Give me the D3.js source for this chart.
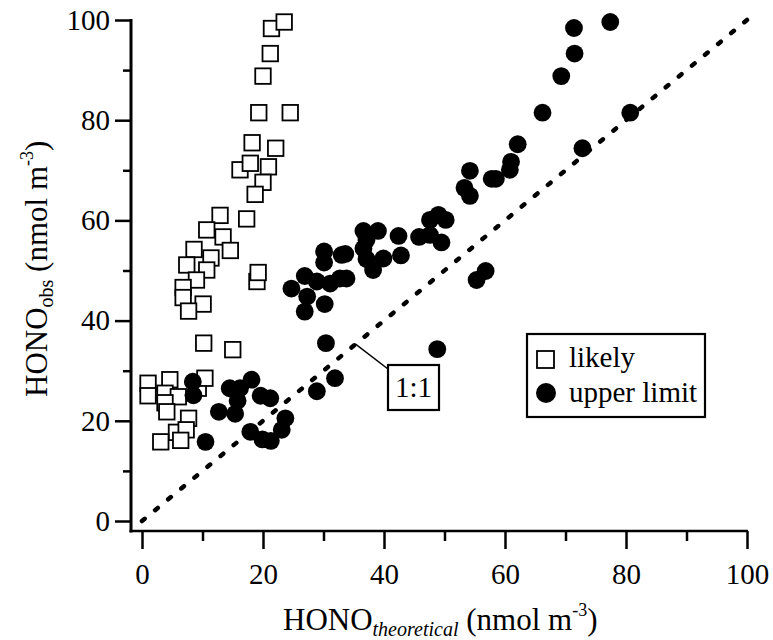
<!DOCTYPE html>
<html>
<head>
<meta charset="utf-8">
<script src="https://cdn.jsdelivr.net/npm/d3@7"></script>
<style>
  html, body { margin: 0; padding: 0; background: #fff; }
</style>
</head>
<body>
<svg id="chart" width="773" height="640"></svg>
<script>
// "likely" (open squares): HONO_theoretical, HONO_obs
const likelyX = [21.4, 23.5, 21.2, 20.0, 19.3, 24.5, 18.2, 22.1, 16.2, 17.9, 20.9, 20.0, 18.7,
  17.3, 12.9, 10.7, 13.4, 14.6, 8.6, 11.4, 7.4, 10.7, 9.0, 19.0, 19.2, 6.8, 6.8, 10.1, 7.7,
  10.2, 15.0, 1.0, 1.0, 4.6, 9.3, 10.4, 3.8, 6.0, 3.8, 4.1, 7.7, 5.7, 7.3, 6.4, 3.1];
const likelyY = [98.3, 99.6, 93.3, 88.8, 81.5, 81.5, 75.5, 74.4, 70.1, 71.4, 70.7, 67.6, 65.2,
  60.3, 61.0, 58.1, 56.7, 54.0, 54.2, 52.5, 51.1, 50.1, 48.1, 47.8, 49.6, 46.6, 44.6, 43.3, 41.9,
  35.5, 34.2, 27.5, 25.0, 28.2, 26.5, 28.5, 25.5, 24.8, 23.6, 21.8, 20.5, 17.7, 18.2, 16.1, 15.8];

// "upper limit" (filled circles)
const upperX = [8.4, 8.5, 10.5, 12.7, 14.5, 16.2, 15.8, 15.4, 18.1, 19.6, 21.2, 17.9, 19.9, 21.3,
  23.1, 23.7, 28.9, 31.9, 30.4, 48.8,
  24.7, 26.9, 27.3, 26.9, 30.2, 28.9, 31.1, 32.7, 33.8, 30.1, 30.1, 33.0, 33.6, 36.6, 39.0, 37.1,
  36.6, 37.1, 39.9, 38.2, 42.4, 42.8, 45.8, 47.6, 49.0, 50.2, 47.6, 49.5, 53.3, 54.2, 54.2, 57.8,
  58.5, 60.8, 61.0, 62.1, 55.3, 56.8, 66.2, 69.3, 71.5, 71.4, 77.4, 72.8, 80.7];
const upperY = [27.8, 25.1, 15.8, 21.8, 26.5, 26.5, 24.0, 21.4, 28.2, 25.0, 24.5, 17.8, 16.3, 16.0,
  18.2, 20.5, 25.9, 28.5, 35.5, 34.3,
  46.4, 48.9, 44.8, 41.8, 43.3, 47.8, 47.4, 48.4, 48.4, 51.6, 53.8, 53.1, 53.3, 57.9, 57.9, 56.1,
  54.4, 52.3, 52.4, 50.1, 56.9, 53.0, 56.7, 60.1, 61.1, 60.1, 57.1, 55.6, 66.5, 64.9, 69.9, 68.3,
  68.3, 70.1, 71.7, 75.2, 48.1, 49.9, 81.5, 88.8, 93.3, 98.4, 99.6, 74.4, 81.5];

const majorTicks = [0, 20, 40, 60, 80, 100];
const minorTicks = [10, 30, 50, 70, 90];
const oneToOne = [0, 100];
const legendLabels = ["likely", "upper limit"];

const serif = '"Liberation Serif"';
const fontSize = 29;

const svg = d3.select("#chart");
const x = d3.scaleLinear().domain([0, 100]).range([142, 747]);
const y = d3.scaleLinear().domain([0, 100]).range([521, 20]);
const axisX0 = 131, axisY0 = 531;

function setFont(sel, size) {
  return sel.style("font-family", serif)
    .style("font-size", size + "px").attr("fill", "#000");
}

// axes
const yMajor = svg.append("g").attr("transform", `translate(${axisX0},0)`)
  .call(d3.axisLeft(y).tickValues(majorTicks).tickSize(16).tickPadding(5).tickSizeOuter(0));
const yMinor = svg.append("g").attr("transform", `translate(${axisX0},0)`)
  .call(d3.axisLeft(y).tickValues(minorTicks).tickSize(8).tickFormat("").tickSizeOuter(0));
const xMajor = svg.append("g").attr("transform", `translate(0,${axisY0})`)
  .call(d3.axisBottom(x).tickValues(majorTicks).tickSize(18).tickPadding(14).tickSizeOuter(0));
const xMinor = svg.append("g").attr("transform", `translate(0,${axisY0})`)
  .call(d3.axisBottom(x).tickValues(minorTicks).tickSize(10).tickFormat("").tickSizeOuter(0));

[yMajor, yMinor, xMajor, xMinor].forEach(g => {
  g.attr("font-family", null);
  g.select(".domain").remove();
  g.selectAll(".tick line").attr("stroke", "#000").attr("stroke-width", 2.5);
  setFont(g.selectAll("text"), fontSize);
});

svg.append("line")
  .attr("x1", axisX0).attr("x2", axisX0)
  .attr("y1", y(100) - 1).attr("y2", axisY0 + 1.5)
  .attr("stroke", "#000").attr("stroke-width", 3);
svg.append("line")
  .attr("x1", axisX0 - 1.5).attr("x2", x(100) + 1)
  .attr("y1", axisY0).attr("y2", axisY0)
  .attr("stroke", "#000").attr("stroke-width", 2.5);

// 1:1 line
svg.append("line")
  .attr("x1", x(oneToOne[0])).attr("y1", y(oneToOne[0]))
  .attr("x2", x(oneToOne[1])).attr("y2", y(oneToOne[1]))
  .attr("stroke", "#000").attr("stroke-width", 4.5)
  .attr("stroke-linecap", "round")
  .attr("stroke-dasharray", "3.5,13.5");

// squares
const sq = 15.5;
svg.append("g").selectAll("rect")
  .data(d3.zip(likelyX, likelyY))
  .join("rect")
  .attr("x", d => x(d[0]) - sq / 2)
  .attr("y", d => y(d[1]) - sq / 2)
  .attr("width", sq).attr("height", sq)
  .attr("fill", "#fff").attr("stroke", "#000").attr("stroke-width", 1.8);

// circles
svg.append("g").selectAll("circle")
  .data(d3.zip(upperX, upperY))
  .join("circle")
  .attr("cx", d => x(d[0]))
  .attr("cy", d => y(d[1]))
  .attr("r", 8.9)
  .attr("fill", "#000");

// 1:1 annotation
const lab = { x: 388, y: 365, w: 51, h: 45 };
svg.append("line")
  .attr("x1", x(35.3)).attr("y1", y(35.3))
  .attr("x2", lab.x).attr("y2", lab.y + 4)
  .attr("stroke", "#000").attr("stroke-width", 1.5);
svg.append("rect")
  .attr("x", lab.x).attr("y", lab.y).attr("width", lab.w).attr("height", lab.h)
  .attr("fill", "#fff").attr("stroke", "#000").attr("stroke-width", 2.2);
setFont(svg.append("text"), fontSize)
  .attr("x", lab.x + lab.w / 2).attr("y", lab.y + 32)
  .attr("text-anchor", "middle")
  .text("1:1");

// legend
const lg = svg.append("g").attr("transform", "translate(527,334)");
lg.append("rect").attr("width", 178).attr("height", 83)
  .attr("fill", "#fff").attr("stroke", "#000").attr("stroke-width", 2.2);
lg.append("rect").attr("x", 10).attr("y", 17).attr("width", 17).attr("height", 17)
  .attr("fill", "#fff").attr("stroke", "#000").attr("stroke-width", 1.8);
lg.append("circle").attr("cx", 19).attr("cy", 59).attr("r", 10).attr("fill", "#000");
setFont(lg.selectAll("text.leg").data(legendLabels).join("text"), fontSize)
  .attr("class", "leg")
  .attr("x", 42).attr("y", (d, i) => 33 + i * 35)
  .text(d => d);

// axis titles: HONO_sub (nmol m^-3)
function axisTitle(t, sub, italic) {
  t.append("tspan").text("HONO");
  t.append("tspan").attr("dy", 6).style("font-size", "20px")
    .style("font-style", italic ? "italic" : "normal")
    .text(sub);
  t.append("tspan").attr("dy", -6).text(" (nmol m");
  t.append("tspan").attr("dy", -14).style("font-size", "18px").text("-3");
  t.append("tspan").attr("dy", 14).text(")");
}
axisTitle(setFont(svg.append("text"), 31).attr("x", 283).attr("y", 630), "theoretical", true);
axisTitle(setFont(svg.append("text"), 31)
  .attr("transform", "translate(47,397) rotate(-90)"), "obs", false);
</script>
</body>
</html>
